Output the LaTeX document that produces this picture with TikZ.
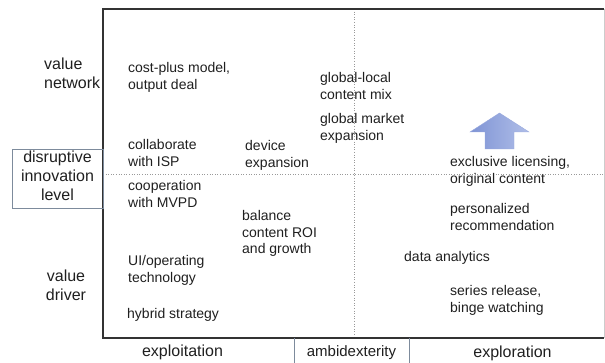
\documentclass[tikz,border=0pt]{standalone}
\usepackage{fontspec}
\setmainfont{Liberation Sans}
\begin{document}
\begin{tikzpicture}[x=1pt,y=-1pt,
  ink/.style={text=black!88},
  item/.style={ink,font=\fontsize{14}{16.5}\selectfont,align=left,anchor=north west,
    inner sep=0pt,yshift=11.55pt,execute at begin node=\strut},
  sidelabel/.style={ink,font=\fontsize{16}{18.5}\selectfont,inner sep=0pt,
    yshift=12.95pt,execute at begin node=\strut},
  levellabel/.style={ink,font=\fontsize{16}{19}\selectfont,inner sep=0pt,
    yshift=13.3pt,execute at begin node=\strut},
  axislabel/.style={ink,font=\fontsize{16}{18.5}\selectfont,inner sep=0pt,anchor=base},
  frame/.style={draw=black!80,line width=1.1pt},
  boxline/.style={draw=boxgray,line width=0.8pt},
  grid/.style={draw=black!40,dotted,line width=0.6pt}]
\definecolor{boxgray}{HTML}{7D8B9C}
\useasboundingbox (0,0) rectangle (605,363);

% quadrant grid inside the frame
\draw[grid] (103,174) -- (604,174);
\draw[grid] (354,9) -- (354,338);

% main frame: dark on three sides, faint on the right
\draw[draw=black!20,line width=0.8pt] (604,9) -- (604,338);
\draw[frame] (604,9) -- (103,9) -- (103,338) -- (604,338);

% boxed axis labels
\node[boxline,minimum width=91pt,minimum height=59pt,anchor=north west,inner sep=0pt] (dilbox) at (12,149) {};
\node[levellabel,align=center,anchor=north] (dil) at (57.5,164) {disruptive\\innovation\\level};
\draw[boxline] (294,338) -- (294,364) (409,338) -- (409,364);
\node[ink,font=\fontsize{15}{17}\selectfont,inner sep=0pt,anchor=base] (amb) at (351.5,356) {ambidexterity};

% vertical axis labels
\node[sidelabel,align=left,anchor=north west] (vn) at (44,71) {value\\network};
\node[sidelabel,align=center,anchor=north] (vd) at (66,283) {value\\driver};

% horizontal axis labels
\node[axislabel] (exploit) at (182.5,356) {exploitation};
\node[axislabel] (explore) at (512.5,357) {exploration};

% exploitation side
\node[item] (cost) at (128,74) {cost-plus model,\\output deal};
\node[item] (isp) at (128,151) {collaborate\\with ISP};
\node[item] (mvpd) at (128,192) {cooperation\\with MVPD};
\node[item] (ui) at (128,267) {UI/operating\\technology};
\node[item] (hybrid) at (127,318) {hybrid strategy};
\node[item] (device) at (245,152) {device\\expansion};
\node[item] (balance) at (242,222) {balance\\content ROI\\and growth};

% ambidexterity column
\node[item] (glocal) at (320,84) {global-local\\content mix};
\node[item] (gmarket) at (320,125) {global market\\expansion};

% exploration side
\node[item] (excl) at (450,168) {exclusive licensing,\\original content};
\node[item] (perso) at (450,215) {personalized\\recommendation};
\node[item] (data) at (404,261) {data analytics};
\node[item] (series) at (450,297) {series release,\\binge watching};

% upward block arrow
\definecolor{arrowdark}{HTML}{7F94D5}
\definecolor{arrowlight}{HTML}{B0BEE8}
\shade[left color=arrowdark,right color=arrowlight,draw=arrowdark!80,line width=0.4pt]
  (470,132) -- (499.5,113) -- (529,132) -- (514,132) -- (514,149) -- (485,149) -- (485,132) -- cycle;
\end{tikzpicture}
\end{document}
